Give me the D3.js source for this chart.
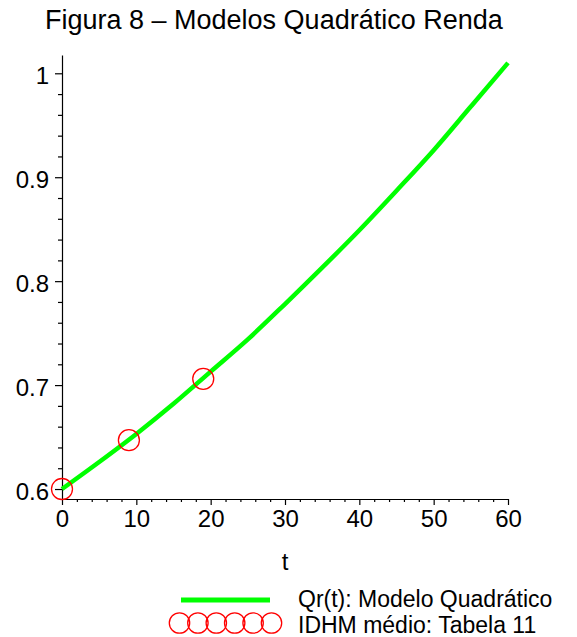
<!DOCTYPE html>
<html>
<head>
<meta charset="utf-8">
<script src="https://cdn.jsdelivr.net/npm/d3@7"></script>
<style>
  body { margin: 0; background: #fff; }
  svg { display: block; }
  text { font-family: "Liberation Sans", Arial, sans-serif; fill: #000; }
</style>
</head>
<body>
<div id="chart"></div>
<script>
// curve Qr(t)
var tValues = [0, 5, 10, 15, 20, 25, 30, 35, 40, 45, 50, 55, 60];
var qrValues = [0.600, 0.626, 0.653, 0.682, 0.713, 0.744, 0.778, 0.813, 0.849, 0.887, 0.926, 0.968, 1.010];

// IDHM points (Tabela 11)
var pointT = [0, 9, 19];
var pointIdhm = [0.600, 0.647, 0.706];

var xTicks = [0, 10, 20, 30, 40, 50, 60];
var yTicks = [0.6, 0.7, 0.8, 0.9, 1];
var yTickLabels = ["0.6", "0.7", "0.8", "0.9", "1"];

var titleText = "Figura 8 – Modelos Quadrático Renda";
var xLabel = "t";
var legendLabels = ["Qr(t): Modelo Quadrático", "IDHM médio: Tabela 11"];

var svgWidth = 577;
var svgHeight = 637;

var svg = d3.select("#chart")
  .append("svg")
  .attr("width", svgWidth)
  .attr("height", svgHeight);

var x = d3.scaleLinear().domain([0, 60]).range([62, 508]);
var y = d3.scaleLinear().domain([0.5904, 1.0176]).range([499, 55]);

// title
svg.append("text")
  .attr("x", 45)
  .attr("y", 29)
  .style("font-size", "27px")
  .text(titleText);

// minor ticks
var xMinor = d3.range(0, 61, 2).filter(function(d) { return d % 10 !== 0; });
var yMinor = d3.range(30, 51).map(function(d) { return d / 50; })
  .filter(function(d) { return Math.round(d * 100) % 10 !== 0; });

svg.append("g")
  .attr("transform", "translate(0,499)")
  .call(d3.axisBottom(x).tickValues(xMinor).tickSize(3).tickFormat(""))
  .call(function(g) { g.select(".domain").remove(); });

svg.append("g")
  .attr("transform", "translate(62,0)")
  .call(d3.axisLeft(y).tickValues(yMinor).tickSize(4).tickFormat(""))
  .call(function(g) { g.select(".domain").remove(); });

// main axes
var xAxis = svg.append("g")
  .attr("transform", "translate(0,499)")
  .call(d3.axisBottom(x).tickValues(xTicks).tickSize(6).tickSizeOuter(0).tickPadding(5).tickFormat(d3.format("d")));

var yAxis = svg.append("g")
  .attr("transform", "translate(62,0)")
  .call(d3.axisLeft(y).tickValues(yTicks).tickSize(7).tickSizeOuter(0).tickPadding(6)
    .tickFormat(function(d, i) { return yTickLabels[i]; }));

svg.selectAll(".tick line, .domain").attr("stroke", "#000").attr("stroke-width", 1.2);
svg.selectAll(".tick text")
  .attr("font-family", "Liberation Sans, Arial, sans-serif")
  .attr("font-size", 24)
  .attr("fill", "#000");
yAxis.selectAll(".tick text").attr("dy", "0.44em");

// x label
svg.append("text")
  .attr("x", x(30))
  .attr("y", 570)
  .attr("text-anchor", "middle")
  .style("font-size", "24px")
  .text(xLabel);

// curve
var line = d3.line()
  .x(function(d, i) { return x(tValues[i]); })
  .y(function(d) { return y(d); })
  .curve(d3.curveMonotoneX);

svg.append("path")
  .datum(qrValues)
  .attr("d", line)
  .attr("fill", "none")
  .attr("stroke", "#00ff00")
  .attr("stroke-width", 4.5);

// points
svg.selectAll(".pt")
  .data(pointIdhm)
  .enter()
  .append("circle")
  .attr("class", "pt")
  .attr("cx", function(d, i) { return x(pointT[i]); })
  .attr("cy", function(d) { return y(d); })
  .attr("r", 10.5)
  .attr("fill", "none")
  .attr("stroke", "#ff0000")
  .attr("stroke-width", 1.3);

// legend
var legend = svg.append("g");

legend.append("line")
  .attr("x1", 181).attr("x2", 270)
  .attr("y1", 600).attr("y2", 600)
  .attr("stroke", "#00ff00")
  .attr("stroke-width", 5);

legend.selectAll(".lc")
  .data(d3.range(6))
  .enter()
  .append("circle")
  .attr("class", "lc")
  .attr("cx", function(d) { return 179.5 + d * 18.4; })
  .attr("cy", 623)
  .attr("r", 10.2)
  .attr("fill", "none")
  .attr("stroke", "#ff0000")
  .attr("stroke-width", 1.3);

legend.selectAll(".lt")
  .data(legendLabels)
  .enter()
  .append("text")
  .attr("class", "lt")
  .attr("x", 298)
  .attr("y", function(d, i) { return 607 + i * 26; })
  .style("font-size", "23px")
  .text(function(d) { return d; });
</script>
</body>
</html>
